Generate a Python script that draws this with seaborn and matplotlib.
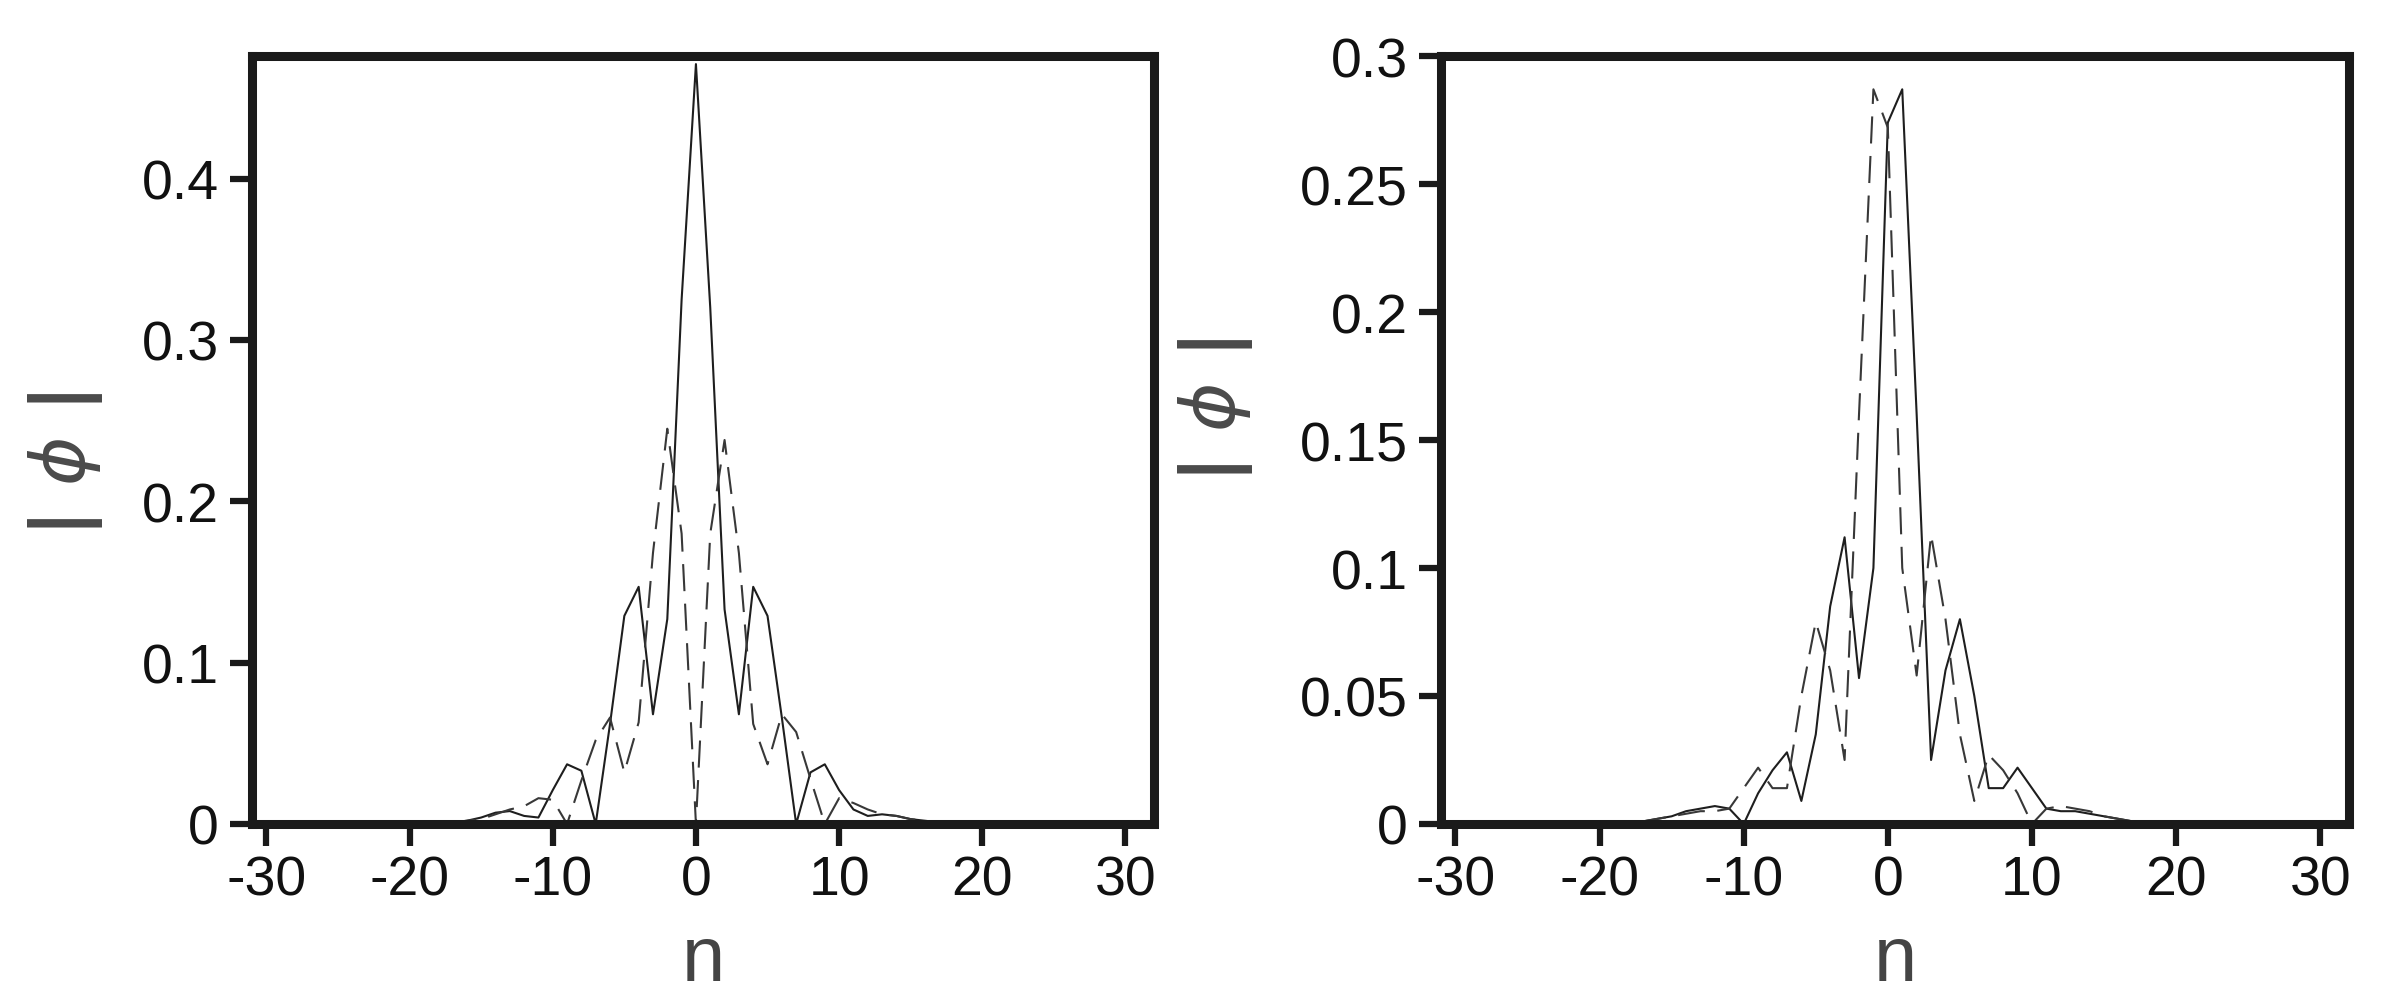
import numpy as np
import pandas as pd
import matplotlib
matplotlib.use('Agg')
import matplotlib.pyplot as plt
import seaborn as sns

sns.set_style('ticks')
plt.rcParams['font.family'] = ['Liberation Sans', 'DejaVu Sans']
plt.rcParams['axes.unicode_minus'] = False
plt.rcParams['mathtext.fontset'] = 'dejavusans'

# lattice sites
n_sites = list(range(-20, 21))

# left panel |phi_n|
left_solid = [0.0, 0.0003, 0.0006, 0.001, 0.002, 0.004, 0.007, 0.008, 0.005, 0.004,
              0.021, 0.037, 0.033, 0.0, 0.062, 0.129, 0.147, 0.068, 0.127, 0.325,
              0.471,
              0.32, 0.133, 0.068, 0.147, 0.129, 0.066, 0.0, 0.032, 0.037, 0.021,
              0.009, 0.005, 0.006, 0.005, 0.003, 0.002, 0.001, 0.0005, 0.0002, 0.0]
left_dashed = [0.0, 0.0002, 0.0005, 0.001, 0.002, 0.003, 0.006, 0.009, 0.011, 0.016,
               0.015, 0.0, 0.027, 0.052, 0.066, 0.032, 0.063, 0.168, 0.245, 0.18,
               0.0,
               0.18, 0.238, 0.168, 0.062, 0.037, 0.068, 0.057, 0.028, 0.0, 0.016,
               0.013, 0.009, 0.006, 0.005, 0.003, 0.002, 0.001, 0.0005, 0.0002, 0.0]

# right panel |phi_n|
right_solid = [0.0, 0.0003, 0.0006, 0.001, 0.002, 0.003, 0.005, 0.006, 0.007, 0.006,
               0.0, 0.012, 0.021, 0.028, 0.009, 0.035, 0.085, 0.112, 0.057, 0.100,
               0.274,
               0.287, 0.160, 0.025, 0.060, 0.080, 0.050, 0.014, 0.014, 0.022, 0.014,
               0.006, 0.005, 0.005, 0.004, 0.003, 0.002, 0.001, 0.0005, 0.0002, 0.0]
right_dashed = [0.0, 0.0002, 0.0005, 0.001, 0.002, 0.003, 0.004, 0.005, 0.005, 0.006,
                0.014, 0.022, 0.014, 0.014, 0.050, 0.079, 0.060, 0.025, 0.160, 0.287,
                0.272,
                0.100, 0.058, 0.113, 0.080, 0.035, 0.009, 0.027, 0.021, 0.012, 0.0,
                0.006, 0.007, 0.006, 0.005, 0.003, 0.002, 0.001, 0.0006, 0.0003, 0.0]

x_ticks = [-30, -20, -10, 0, 10, 20, 30]
left_yticks = [0, 0.1, 0.2, 0.3, 0.4]
left_ylabels = ['0', '0.1', '0.2', '0.3', '0.4']
right_yticks = [0, 0.05, 0.1, 0.15, 0.2, 0.25, 0.3]
right_ylabels = ['0', '0.05', '0.1', '0.15', '0.2', '0.25', '0.3']

df_left = pd.DataFrame({'n': n_sites, 'solid': left_solid, 'dashed': left_dashed})
df_right = pd.DataFrame({'n': n_sites, 'solid': right_solid, 'dashed': right_dashed})

fig = plt.figure(figsize=(23.87, 10.04), dpi=100)
ax1 = fig.add_axes([0.1056, 0.1783, 0.3779, 0.7649])
ax2 = fig.add_axes([0.6037, 0.1783, 0.3804, 0.7649])

panels = [(ax1, df_left, 0.476, left_yticks, left_ylabels, (-0.163, 0.47)),
          (ax2, df_right, 0.3, right_yticks, right_ylabels, (-0.205, 0.54))]

for ax, df, ytop, yt, ylab, lab_xy in panels:
    sns.lineplot(data=df, x='n', y='solid', ax=ax, color='#1e1e1e', lw=1.5)
    sns.lineplot(data=df, x='n', y='dashed', ax=ax, color='#383838', lw=1.5,
                 linestyle=(0, (13, 6)))
    ax.set_xlim(-31, 32)
    ax.set_ylim(0, ytop)
    ax.set_xticks(x_ticks)
    ax.set_xticklabels([str(t) for t in x_ticks])
    ax.set_yticks(yt)
    ax.set_yticklabels(ylab)
    for s in ax.spines.values():
        s.set_linewidth(6.5)
        s.set_color('#1a1a1a')
        s.set_visible(True)
    ax.tick_params(axis='both', direction='out', length=16, width=4.5,
                   color='#1a1a1a', labelsize=40, labelcolor='#111111')
    ax.tick_params(axis='x', pad=6)
    ax.tick_params(axis='y', pad=8)
    ax.tick_params(top=False, right=False)
    ax.set_xlabel('n', fontsize=56, color='#444444', labelpad=12)
    ax.set_ylabel(r'$\mathbf{|}\ \phi\ \mathbf{|}$', fontsize=54, color='#4a4a4a')
    ax.yaxis.set_label_coords(*lab_xy)
    ax.grid(False)

fig.savefig('out.png', dpi=100)
